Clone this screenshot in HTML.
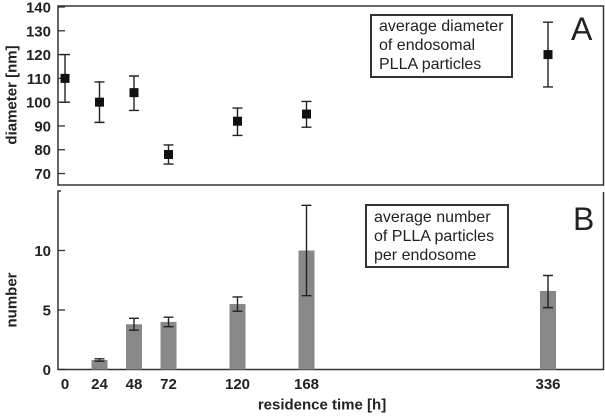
<!DOCTYPE html>
<html><head><meta charset="utf-8"><style>
body{margin:0;background:#fff}
svg text{font-family:"Liberation Sans",Arial,sans-serif}
</style></head><body>
<svg id="c" width="605" height="414" xmlns="http://www.w3.org/2000/svg"></svg>
<script>
const hours=[0,24,48,72,120,168,336];
const diam=[110,100,104,78,92,95,120];
const diamHi=[120,108.5,111,82,97.5,100.3,133.6];
const diamLo=[100,91.5,96.5,74,86,89.5,106.4];
const numHours=[24,48,72,120,168,336];
const num=[0.8,3.8,4.0,5.5,10,6.6];
const numHi=[0.9,4.3,4.4,6.1,13.8,7.9];
const numLo=[0.7,3.3,3.6,4.9,6.2,5.2];
const yTicksA=[70,80,90,100,110,120,130,140];
const yTicksB=[0,5,10];
const NS="http://www.w3.org/2000/svg";
const svg=document.getElementById('c');
function X(h){return 65+h*1.4375;}
function YA(v){return 7+(140-v)*2.379;}
function YB(v){return 369.5-v*11.9;}
function el(t,a,txt){const e=document.createElementNS(NS,t);for(const k in a)e.setAttribute(k,a[k]);if(txt!==undefined)e.textContent=txt;svg.appendChild(e);return e;}
let f=el('rect',{x:58,y:6,width:545.5,height:179,fill:'none',stroke:'#333','stroke-width':1.5});


let p=el('path',{d:'M61 191 H58 V369.5 H603.5 V192',fill:'none',stroke:'#333','stroke-width':1.5});


yTicksA.forEach(v=>{
 let t=el('line',{x1:58,x2:65,y1:YA(v),y2:YA(v),stroke:'#333','stroke-width':1.3});
 
 
 let l=el('text',{x:51,y:YA(v)+5.5,'text-anchor':'end','font-size':15,'font-weight':'bold',fill:'#222'},v);
 
 
});
yTicksB.forEach(v=>{
 let t=el('line',{x1:58,x2:65,y1:YB(v),y2:YB(v),stroke:'#333','stroke-width':1.3});
 
 
 let l=el('text',{x:51,y:YB(v)+5.5,'text-anchor':'end','font-size':15,'font-weight':'bold',fill:'#222'},v);
 
 
});
hours.forEach(h=>{
 let l=el('text',{x:X(h),y:389,'text-anchor':'middle','font-size':15,'font-weight':'bold',fill:'#222'},h);
 
 
});
function err(x,hi,lo,name){
 let e=el('path',{d:`M${x-5} ${hi} H${x+5} M${x} ${hi} V${lo} M${x-5} ${lo} H${x+5}`,stroke:'#222','stroke-width':1.4,fill:'none'});
 
 
}
hours.forEach((h,i)=>{
 err(X(h),YA(diamHi[i]),YA(diamLo[i]),'diameter-error-bar');
 let m=el('rect',{x:X(h)-4.5,y:YA(diam[i])-4.5,width:9,height:9,fill:'#111'});
 
 
});
numHours.forEach((h,i)=>{
 let b=el('rect',{x:X(h)-8,y:YB(num[i]),width:16,height:YB(0)-YB(num[i]),fill:'#888'});
 
 
 err(X(h),YB(numHi[i]),YB(numLo[i]),'number-error-bar');
});
</script>
<div style="position:absolute;left:0;top:0;width:605px;height:414px;pointer-events:none;font-family:'Liberation Sans',Arial,sans-serif;color:#222">
 <div style="position:absolute;left:370px;top:14px;width:143px;height:64px;border:2px solid #333;font-size:16px;line-height:19px;padding:1px 0 0 7px;box-sizing:border-box">average diameter<br>of endosomal<br>PLLA particles</div>
 <div style="position:absolute;left:365px;top:204px;width:144px;height:64px;border:2px solid #333;font-size:16px;line-height:19px;padding:2px 0 0 7px;box-sizing:border-box">average number<br>of PLLA particles<br>per endosome</div>
 <div style="position:absolute;left:571px;top:11px;font-size:32px">A</div>
 <div style="position:absolute;left:573px;top:201px;font-size:32px">B</div>
 <div style="position:absolute;left:12px;top:95px;transform:translate(-50%,-50%) rotate(-90deg);font-size:15px;font-weight:bold;white-space:nowrap">diameter [nm]</div>
 <div style="position:absolute;left:12px;top:300px;transform:translate(-50%,-50%) rotate(-90deg);font-size:15px;font-weight:bold;white-space:nowrap">number</div>
 <div style="position:absolute;left:322px;top:405px;transform:translate(-50%,-50%);font-size:15px;font-weight:bold;white-space:nowrap">residence time [h]</div>
</div>
</body></html>
